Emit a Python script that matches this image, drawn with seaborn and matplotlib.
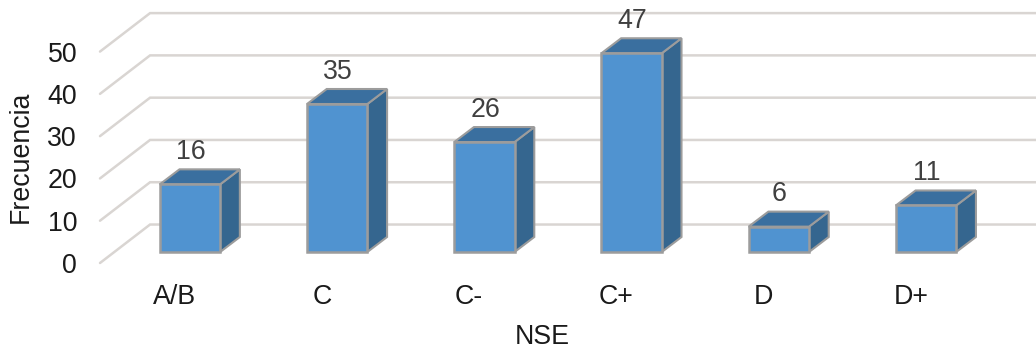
import numpy as np
import pandas as pd
import matplotlib
matplotlib.use("Agg")
import matplotlib.pyplot as plt
from matplotlib.patches import Polygon
import seaborn as sns

# Frequency of respondents by socioeconomic level
categories = ["A/B", "C", "C-", "C+", "D", "D+"]
counts = [16, 35, 26, 47, 6, 11]
tick_values = [0, 10, 20, 30, 40, 50]

FRONT = "#5093D0"
TOP = "#3A6F9F"
SIDE = "#35668F"
EDGE = "#9C9C9C"
GRID = "#D9D5D2"
TEXT = "#1A1A1A"
LABEL = "#404040"

# Pseudo-3D geometry, in data units
BAR_WIDTH = 0.41
FLOOR_LIFT = 2.6      # front edge of the bars above the axis plane
WALL_LIFT = 9.1       # back wall above the axis plane
WALL_X = 0.34         # back wall to the right of the axis plane
DEPTH_X = 0.134
DEPTH_Y = 3.55

sns.set_theme(style="white")
plt.rcParams["font.family"] = ["Liberation Sans", "DejaVu Sans"]

fig = plt.figure(figsize=(10.36, 3.49), dpi=100, facecolor="white")
ax = fig.add_axes([100 / 1036, 86 / 349, 936 / 1036, 263 / 349])

df = pd.DataFrame({"NSE": categories, "Frecuencia": counts})
sns.barplot(
    data=df, x="NSE", y="Frecuencia", order=categories, ax=ax,
    color=FRONT, saturation=1, width=BAR_WIDTH, bottom=FLOOR_LIFT,
    edgecolor=EDGE, linewidth=1.8, zorder=4,
)

ax.set_xlim(-0.611, 5.747)
ax.set_ylim(0, 62.2)
x_left = ax.get_xlim()[0]
x_right = ax.get_xlim()[1]

# Wall gridlines and their diagonal run across the floor
for v in tick_values:
    wall_y = v + WALL_LIFT
    ax.plot([x_left, x_left + WALL_X, x_right], [v, wall_y, wall_y],
            color=GRID, lw=1.8, zorder=1, clip_on=False,
            solid_joinstyle="miter")

# Side and top faces of each bar, then the value above it
half = BAR_WIDTH / 2
for i, value in enumerate(counts):
    y0 = FLOOR_LIFT
    y1 = value + FLOOR_LIFT
    side = [(i + half, y0), (i + half + DEPTH_X, y0 + DEPTH_Y),
            (i + half + DEPTH_X, y1 + DEPTH_Y), (i + half, y1)]
    top = [(i - half, y1), (i - half + DEPTH_X, y1 + DEPTH_Y),
           (i + half + DEPTH_X, y1 + DEPTH_Y), (i + half, y1)]
    ax.add_patch(Polygon(side, closed=True, facecolor=SIDE, edgecolor=EDGE,
                         lw=1.5, zorder=3))
    ax.add_patch(Polygon(top, closed=True, facecolor=TOP, edgecolor=EDGE,
                         lw=1.5, zorder=3))
    ax.annotate(str(value), xy=(i, y1), xytext=(0.5, 23.3),
                textcoords="offset points", ha="center", va="center",
                fontsize=19.3, color=LABEL, zorder=5, annotation_clip=False)

# Labels sit on the axis plane, a little left of the bar fronts
ax.set_xticks(np.arange(len(categories)) - 0.103, categories)
ax.set_yticks(tick_values, [str(v) for v in tick_values])
ax.tick_params(axis="x", length=0, pad=15, labelsize=19.3, labelcolor=TEXT)
ax.tick_params(axis="y", length=0, pad=16.5, labelsize=19.3, labelcolor=TEXT)

ax.set_xlabel("NSE", fontsize=19.3, color=TEXT, va="center")
ax.set_ylabel("Frecuencia", fontsize=19.3, color=TEXT, va="center")
ax.xaxis.set_label_coords(0.472, -0.281)
ax.yaxis.set_label_coords(-0.0845, 0.405)

sns.despine(ax=ax, left=True, bottom=True)
ax.patch.set_alpha(0)

fig.savefig("out.png", dpi=100, facecolor="white")
